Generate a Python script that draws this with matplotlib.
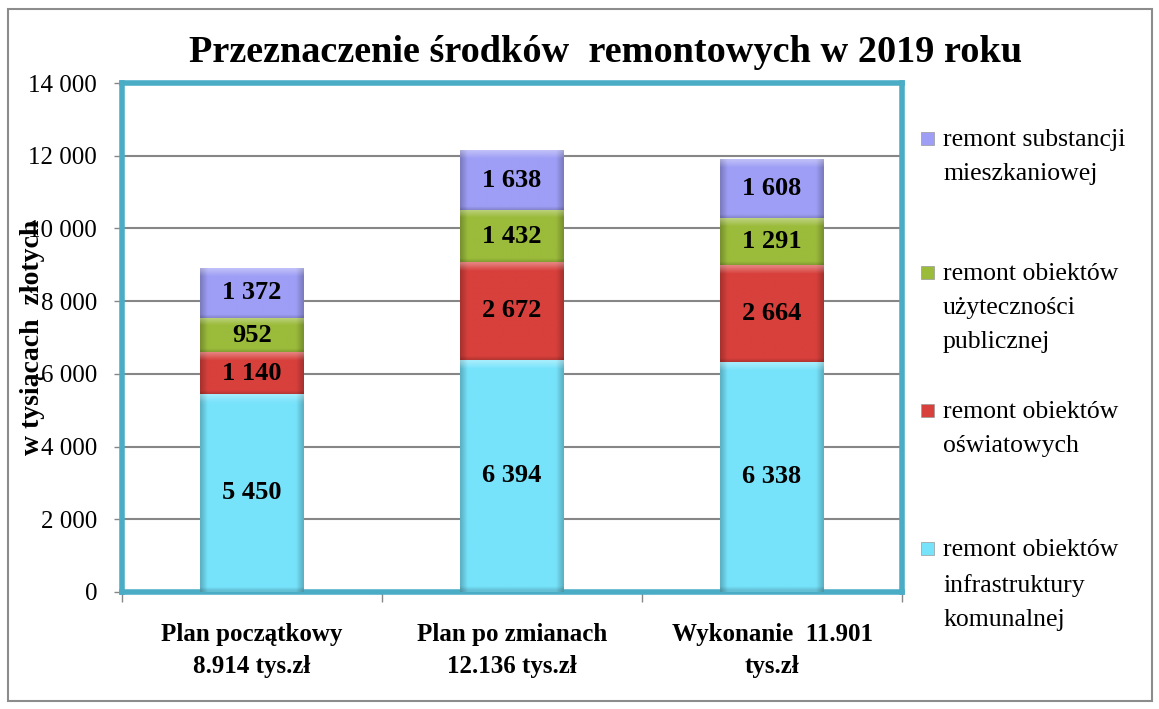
"""
Przeznaczenie srodkow remontowych w 2019 roku - stacked bar chart.
"""

import numpy as np
import matplotlib.pyplot as plt
from matplotlib.patches import Rectangle
from matplotlib.colors import to_rgb

plt.rcParams['font.family'] = ['Liberation Serif', 'DejaVu Serif']

# --- Data ---
categories = ["Plan początkowy\n8.914 tys.zł",
              "Plan po zmianach\n12.136 tys.zł",
              "Wykonanie  11.901\ntys.zł"]
infrastruktura = [5450, 6394, 6338]
oswiatowe = [1140, 2672, 2664]
uzytecznosc = [952, 1432, 1291]
substancja = [1372, 1638, 1608]

series_names = ["remont obiektów\ninfrastruktury\nkomunalnej",
                "remont obiektów\noświatowych",
                "remont obiektów\nużyteczności\npublicznej",
                "remont substancji\nmieszkaniowej"]
series_values = [infrastruktura, oswiatowe, uzytecznosc, substancja]
series_colors = ["#76E3FB", "#D8403C", "#9BBB3B", "#9E9EF6"]

y_ticks = list(range(0, 14001, 2000))


def fmt_pl(v):
    """Thousands separated by a space, Polish style."""
    return f"{v:,.0f}".replace(",", " ")


def shade_bar(ax, patch, color):
    """Overlay an Excel-like bevel gradient on a bar segment."""
    x0, y0 = patch.get_x(), patch.get_y()
    w, h = patch.get_width(), patch.get_height()
    nx, ny = 60, 60
    xs = np.linspace(0, 1, nx)
    ys = np.linspace(0, 1, ny)  # 0 = top row (imshow origin upper)
    base = np.array(to_rgb(color))
    img = np.ones((ny, nx, 3)) * base
    # darker sides
    side = np.clip(1 - np.minimum(xs, 1 - xs) / 0.07, 0, 1)
    fac = 1 - 0.22 * side[None, :]
    # lighter top band (~8 px)
    band = 220.0 / h
    top = np.clip(1 - ys / band, 0, 1)
    light = 0.35 * top[:, None]
    img = img * fac[:, :, None]
    img = img + (1 - img) * light[:, :, None]
    # slightly darker bottom edge
    bot = np.clip(1 - (1 - ys) / (90.0 / h), 0, 1)
    img = img * (1 - 0.15 * bot[:, None, None])
    ax.imshow(np.clip(img, 0, 1), extent=(x0, x0 + w, y0, y0 + h),
              aspect='auto', zorder=3, interpolation='bilinear')


def main():
    fig = plt.figure(figsize=(11.59, 7.09), dpi=100)
    W, H = 1159, 709
    ax = fig.add_axes([122 / W, 1 - 592 / H, 780 / W, 509 / H])

    # outer chart border
    fig.patches.append(Rectangle((8 / W, 8 / H), 1144 / W, 692 / H,
                                 transform=fig.transFigure, fill=False,
                                 edgecolor="#8c8c8c", lw=1.5))

    x = np.arange(len(categories))
    bottom = np.zeros(len(categories))
    for vals, col in zip(series_values, series_colors):
        bars = ax.bar(x, vals, width=0.4, bottom=bottom, color=col,
                      edgecolor="none", zorder=2)
        for p in bars:
            shade_bar(ax, p, col)
        ax.bar_label(bars, labels=[fmt_pl(v) for v in vals],
                     label_type='center', fontsize=19, fontweight='bold',
                     color='black', zorder=5)
        bottom += np.array(vals)

    ax.set_xlim(-0.5, 2.5)
    ax.set_ylim(0, 14000)
    ax.set_yticks(y_ticks)
    ax.set_yticklabels([fmt_pl(v) for v in y_ticks], fontsize=18)
    ax.tick_params(axis='y', length=6, width=1, color="#868686", pad=12)
    ax.yaxis.grid(True, color="#868686", lw=1.5, zorder=1)
    ax.set_axisbelow(True)

    ax.set_xticks(x)
    ax.set_xticklabels(categories, fontsize=18, fontweight='bold',
                       linespacing=1.55)
    ax.tick_params(axis='x', length=0, pad=22)
    ax.set_xticks([-0.5, 0.5, 1.5, 2.5], minor=True)
    ax.tick_params(axis='x', which='minor', length=7, width=1,
                   color="#868686")

    for s in ax.spines.values():
        s.set_color("#4BACC6")
        s.set_linewidth(4)

    # the label overlaps the tick labels in the original chart as well
    ax.set_ylabel("w tysiącach  złotych", fontsize=20, fontweight='bold',
                  va='center')
    ax.yaxis.set_label_coords((33 - 122) / 780, 0.5)

    fig.text(606 / W, 1 - 52 / H,
             "Przeznaczenie środków  remontowych w 2019 roku",
             ha='center', va='center', fontsize=27.5, fontweight='bold')

    # --- legend (Excel style, outside the plot area on the right) ---
    legend_order = [3, 2, 1, 0]
    legend_y = [138, 272, 410, 548]  # first line of each entry, px
    for idx, yp in zip(legend_order, legend_y):
        fig.patches.append(Rectangle((921 / W, 1 - (yp + 7) / H), 13 / W,
                                     13 / H, transform=fig.transFigure,
                                     facecolor=series_colors[idx],
                                     edgecolor="#999999", lw=0.5))
        fig.text(943 / W, 1 - (yp - 9) / H, series_names[idx],
                 ha='left', va='top', fontsize=18.5, linespacing=1.72)

    plt.savefig("out.png", dpi=100)


if __name__ == "__main__":
    main()
